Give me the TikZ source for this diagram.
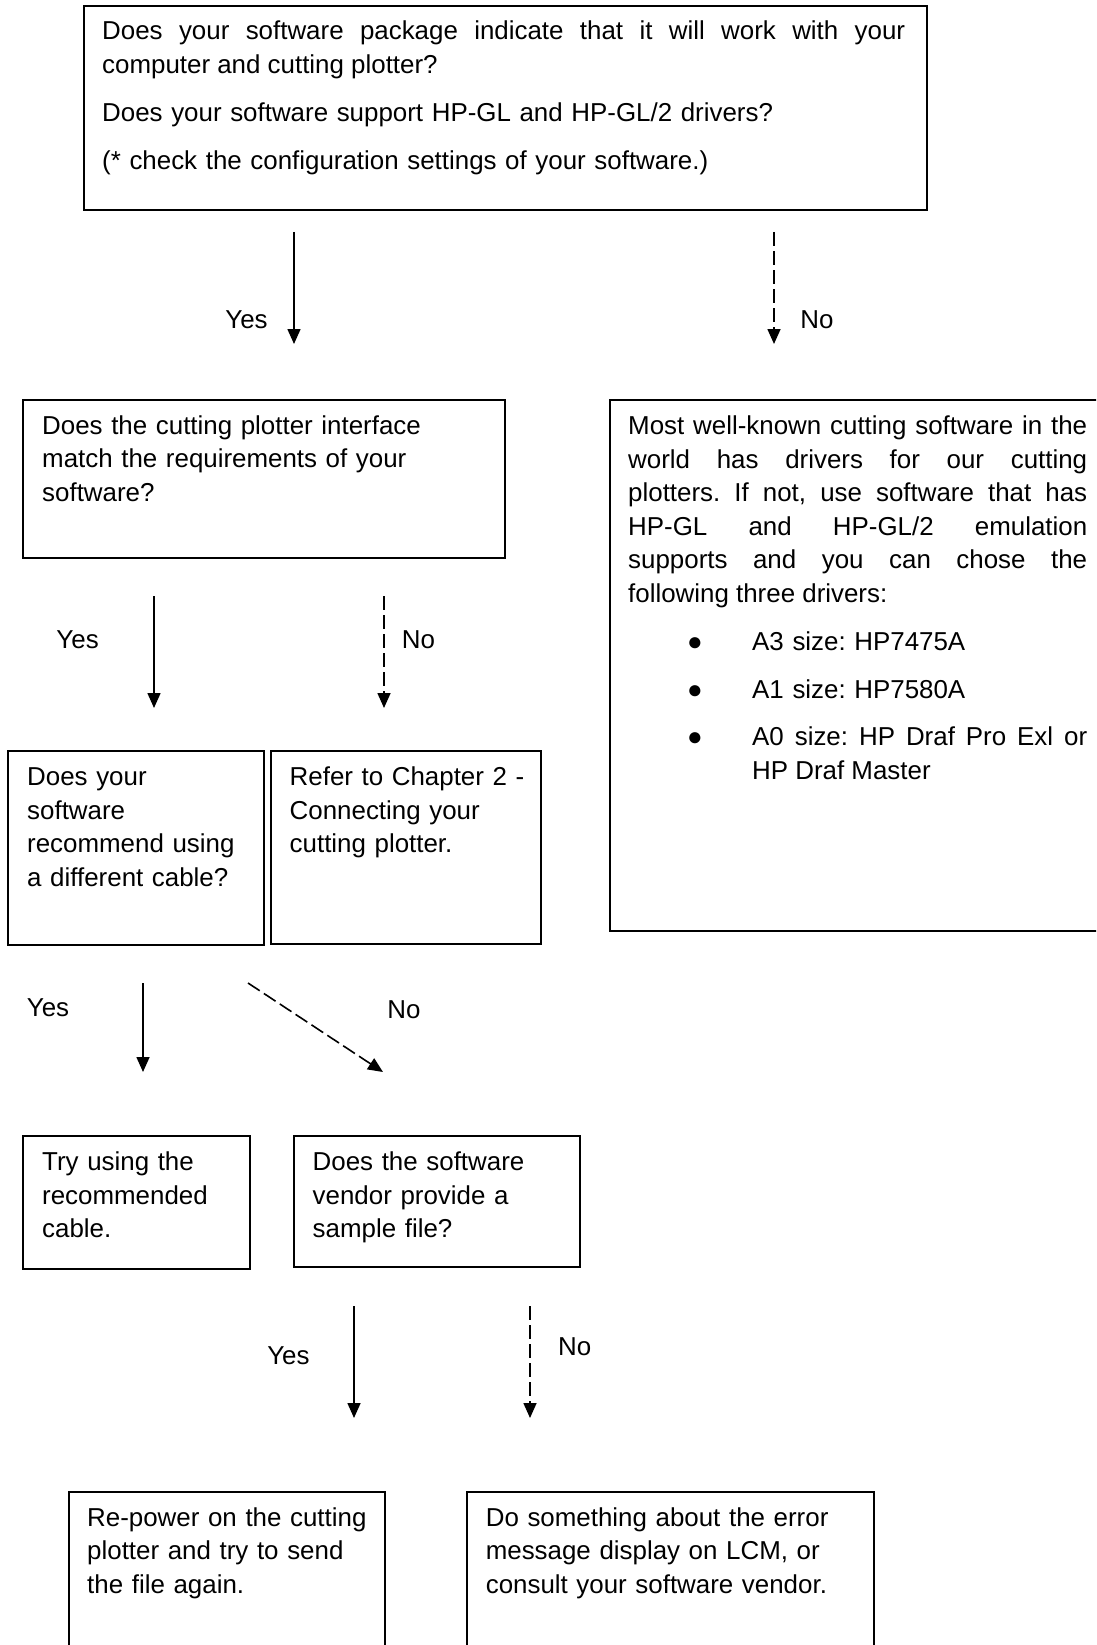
\documentclass[tikz,border=0pt]{standalone}
\usepackage{fontspec}
\setmainfont{Liberation Sans}
\usetikzlibrary{arrows.meta}
\exhyphenpenalty=10000
\hyphenpenalty=10000
\frenchspacing
\begin{document}
\begin{tikzpicture}[x=1pt,y=-1pt,
  box/.style={draw, line width=1.8pt, anchor=north west, inner sep=0pt},
  txt/.style={anchor=base west, inner sep=0pt, align=left, text width=470pt,
    font=\fontsize{25.9}{33.6}\selectfont\frenchspacing},
  jtxt/.style={txt, align=justify},
  lbl/.style={inner sep=0pt, font=\fontsize{25.9}{33.6}\selectfont},
  yesarr/.style={line width=1.6pt, -{Triangle[length=15pt,width=13pt]}},
  noarr/.style={yesarr, dash pattern=on 14pt off 5pt}]
\useasboundingbox (0,0) rectangle (1096,1645);
\clip (0,0) rectangle (1096,1645);

% boxes
\node[box, minimum width=843pt, minimum height=204pt] (b1) at (83,5) {};
\node[box, minimum width=482pt, minimum height=158pt] (b2) at (22,399) {};
\node[box, minimum width=540pt, minimum height=531pt] (bR) at (609,399) {};
\node[box, minimum width=256pt, minimum height=194pt] (b3) at (7,750) {};
\node[box, minimum width=270pt, minimum height=193pt] (b4) at (270,750) {};
\node[box, minimum width=227pt, minimum height=133pt] (b5) at (22,1135) {};
\node[box, minimum width=286pt, minimum height=131pt] (b6) at (293,1135) {};
\node[box, minimum width=316pt, minimum height=220pt] (b7) at (68,1491) {};
\node[box, minimum width=407pt, minimum height=220pt] (b8) at (466,1491) {};

% texts
\node[jtxt, text width=803pt, font=\fontsize{25.9}{34.5}\selectfont\frenchspacing] (t1a) at (102,39.5)
  {Does your software package indicate that it will work with your\linebreak computer and cutting plotter?};
\node[txt, text width=803pt] (t1b) at (102,121.5) {Does your software support HP-GL and HP-GL/2 drivers?};
\node[txt, text width=803pt] (t1c) at (102,169.5) {(* check the configuration settings of your software.)};

\node[txt] (t2) at (42,434) {Does the cutting plotter interface\\match the requirements of your\\software?};
\node[txt] (t3) at (27,785.5) {Does your\\software\\recommend using\\a different cable?};
\node[txt] (t4) at (289.5,785.5) {Refer to Chapter 2 -\\Connecting your\\cutting plotter.};

\node[jtxt, text width=459pt] (tR) at (628,434.5)
  {Most well-known cutting software in the\linebreak world has drivers for our cutting\linebreak plotters. If not, use software that has\linebreak HP-GL and HP-GL/2 emulation\linebreak supports and you can chose the\linebreak following three drivers:};
\node[lbl, anchor=base] (d1) at (695,650) {●};
\node[txt] (i1) at (752,650) {A3 size: HP7475A};
\node[lbl, anchor=base] (d2) at (695,698.5) {●};
\node[txt] (i2) at (752,698.5) {A1 size: HP7580A};
\node[lbl, anchor=base] (d3) at (695,745.5) {●};
\node[jtxt, text width=335pt] (i3) at (752,745.5) {A0 size: HP Draf Pro Exl or\linebreak HP Draf Master};

\node[txt] (t5) at (42,1170.5) {Try using the\\recommended\\cable.};
\node[txt] (t6) at (312.5,1170.5) {Does the software\\vendor provide a\\sample file?};
\node[txt] (t7) at (87,1526) {Re-power on the cutting\\plotter and try to send\\the file again.};
\node[txt] (t8) at (485.6,1526) {Do something about the error\\message display on LCM, or\\consult your software vendor.};

% connectors
\coordinate (y1s) at (294,232); \coordinate (y1e) at (294,344);
\coordinate (n1s) at (774,232); \coordinate (n1e) at (774,344);
\coordinate (y2s) at (154,596); \coordinate (y2e) at (154,708);
\coordinate (n2s) at (384,596); \coordinate (n2e) at (384,708);
\coordinate (y3s) at (143,983); \coordinate (y3e) at (143,1072);
\coordinate (n3s) at (248,983); \coordinate (n3e) at (383,1072);
\coordinate (y4s) at (354,1306); \coordinate (y4e) at (354,1418);
\coordinate (n4s) at (530,1306); \coordinate (n4e) at (530,1418);

\draw[yesarr] (y1s) -- (y1e);
\draw[noarr] (n1s) -- (n1e);
\draw[yesarr] (y2s) -- (y2e);
\draw[noarr] (n2s) -- (n2e);
\draw[yesarr] (y3s) -- (y3e);
\draw[noarr] (n3s) -- (n3e);
\draw[yesarr] (y4s) -- (y4e);
\draw[noarr] (n4s) -- (n4e);

% labels
\node[lbl] (ly1) at (246.5,320) {Yes};
\node[lbl] (ln1) at (817,320) {No};
\node[lbl] (ly2) at (77.6,640) {Yes};
\node[lbl] (ln2) at (418.5,640) {No};
\node[lbl] (ly3) at (48,1008) {Yes};
\node[lbl] (ln3) at (404,1010) {No};
\node[lbl] (ly4) at (288.4,1356) {Yes};
\node[lbl] (ln4) at (574.7,1347) {No};
\end{tikzpicture}
\end{document}
